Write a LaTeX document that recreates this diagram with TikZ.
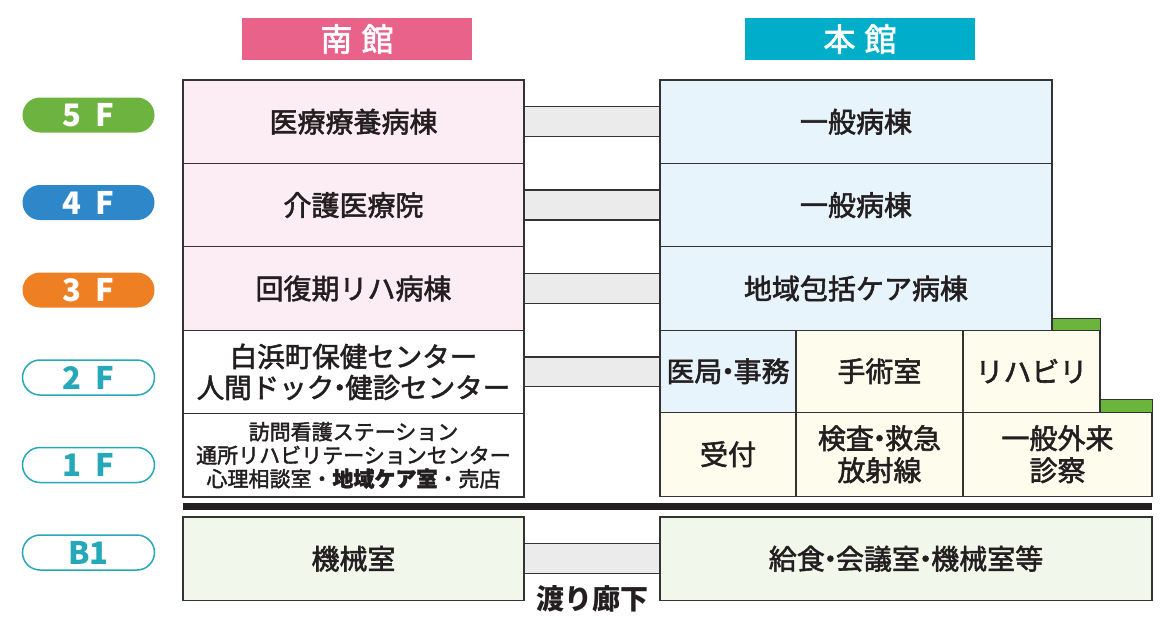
\documentclass[tikz,border=0pt]{standalone}
\usepackage{fontspec}
\setmainfont{Noto Sans CJK JP}
\newfontfamily\roomfont[FakeBold=2]{Noto Sans CJK JP}
\usepackage{xcolor}
\usetikzlibrary{positioning,calc}

\definecolor{ink}{HTML}{231F20}
\definecolor{edge}{HTML}{333333}
\definecolor{southhdr}{HTML}{E8628A}
\definecolor{mainhdr}{HTML}{00AEC9}
\definecolor{pinkroom}{HTML}{FCEDF4}
\definecolor{blueroom}{HTML}{E8F4FC}
\definecolor{creamroom}{HTML}{FEFCEC}
\definecolor{greenroom}{HTML}{F2F7EC}
\definecolor{passage}{HTML}{EBEBEB}
\definecolor{roofgreen}{HTML}{6CB53D}
\definecolor{fiveF}{HTML}{6DB33F}
\definecolor{fourF}{HTML}{2D87C9}
\definecolor{threeF}{HTML}{EE7F23}
\definecolor{lowF}{HTML}{25A8B8}

% narrow middle dot
\newcommand{\nd}{\hspace{-0.3em}・\hspace{-0.3em}}

\begin{document}
\begin{tikzpicture}[x=1pt, y=-1pt, node distance=0pt,
    every node/.style={font=\roomfont\fontsize{28}{32}\selectfont, text=ink},
    room/.style={draw=edge, line width=1.3pt, inner sep=0pt, outer sep=0pt, align=center},
    south/.style={room, minimum width=341pt, minimum height=83.4pt},
    wing/.style={room, minimum width=392pt, minimum height=83.4pt, fill=blueroom},
    cell/.style={room, minimum height=82pt, fill=creamroom},
    header/.style={minimum width=230pt, minimum height=42pt, inner sep=0pt, text=white, font=\roomfont\fontsize{32}{32}\selectfont},
    pill/.style={rounded corners=17.5pt, minimum width=132pt, minimum height=35pt, inner sep=0pt, font=\fontsize{31}{31}\selectfont\bfseries},
    upper/.style={pill, fill=#1, text=white},
    lower/.style={pill, draw=lowF, line width=1.5pt, fill=white, text=lowF},
    corridor/.style={draw=edge, line width=1.3pt, fill=passage},
    roof/.style={draw=edge, line width=1pt, fill=roofgreen},
]
\useasboundingbox (0,0) rectangle (1170,619);

% South wing
\node[south, fill=pinkroom, anchor=north west] (s5) at (183,80) {医療療養病棟};
\node[south, fill=pinkroom, below=of s5] (s4) {介護医療院};
\node[south, fill=pinkroom, below=of s4] (s3) {回復期リハ病棟};
\node[south, fill=white, below=of s3, font=\roomfont\fontsize{27.5}{31}\selectfont] (s2) {白浜町保健センター\\人間ドック\nd 健診センター};
\node[south, fill=white, below=of s2, font=\roomfont\fontsize{21}{23.5}\selectfont] (s1) {訪問看護ステーション\\通所リハビリテーションセンター\\心理相談室・\textbf{地域ケア室}・売店};
\node[south, fill=greenroom, anchor=north west] (sb) at (183,517) {機械室};

% Main wing
\node[wing, anchor=north west] (m5) at (660,80) {一般病棟};
\node[wing, below=of m5] (m4) {一般病棟};
\node[wing, below=of m4] (m3) {地域包括ケア病棟};
\node[cell, fill=blueroom, minimum width=136pt, anchor=north west] (m2a) at (m3.south west) {医局\nd 事務};
\node[cell, minimum width=167pt, right=of m2a] (m2b) {手術室};
\node[cell, minimum width=137pt, right=of m2b] (m2c) {リハビリ};
\node[cell, minimum width=136pt, below=of m2a, minimum height=84pt] (m1a) {受付};
\node[cell, minimum width=167pt, below=of m2b, minimum height=84pt] (m1b) {検査\nd 救急\\放射線};
\node[cell, minimum width=189pt, anchor=north west, minimum height=84pt] (m1c) at (m2c.south west) {一般外来\\診察};
\node[room, fill=greenroom, minimum width=492pt, minimum height=83.4pt, anchor=north west] (mb) at (660,517) {給食\nd 会議室\nd 機械室等};

% Roof edges
\draw[roof] (m3.south east) rectangle ($(m2c.north east)+(0,-12)$);
\draw[roof] (m2c.south east) rectangle ($(m1c.north east)+(0,-13)$);

% Ground line
\fill[ink] ($(s1.south west)+(0,5.5)$) rectangle ($(m1c.south east)+(0,13.5)$);

% Passages
\draw[corridor] ($(s5.east)+(0,-15)$) rectangle ($(m5.west)+(0,15)$);
\draw[corridor] ($(s4.east)+(0,-15)$) rectangle ($(m4.west)+(0,15)$);
\draw[corridor] ($(s3.east)+(0,-15)$) rectangle ($(m3.west)+(0,15)$);
\draw[corridor] ($(s2.east)+(0,-15)$) rectangle ($(m2a.west)+(0,15)$);
\draw[corridor] ($(sb.east)+(0,-15)$) rectangle ($(mb.west)+(0,15)$);
\coordinate (cb) at ($(sb.east)!0.5!(mb.west)$);
\node[font=\fontsize{28}{28}\selectfont\bfseries] (wl) at ($(cb)+(0,40)$) {渡り廊下};

% Headers
\node[header, fill=southhdr] (hs) at (357,39) {南\hspace{9pt}館};
\node[header, fill=mainhdr] (hm) at (860,39) {本\hspace{9pt}館};

% Floor labels
\node[upper=fiveF] (f5) at (88.5,115) {5\hspace{14pt}F};
\node[upper=fourF] (f4) at (88.5,202.5) {4\hspace{14pt}F};
\node[upper=threeF] (f3) at (88.5,290) {3\hspace{14pt}F};
\node[lower] (f2) at (88.5,377.5) {2\hspace{14pt}F};
\node[lower] (f1) at (88.5,465) {1\hspace{14pt}F};
\node[lower] (fb) at (88.5,552.5) {B1};

\end{tikzpicture}
\end{document}
